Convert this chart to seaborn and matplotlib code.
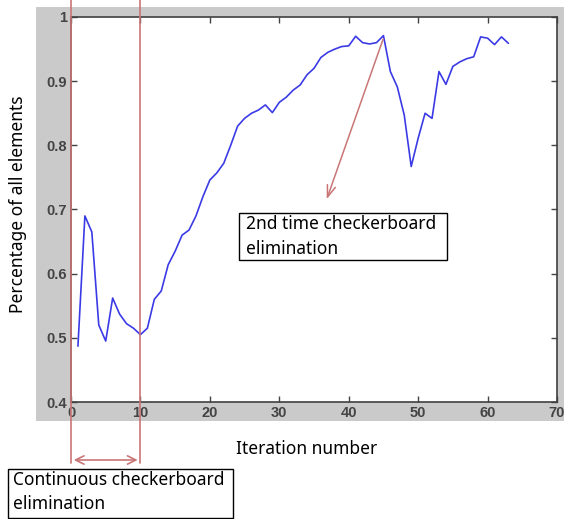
import numpy as np
import pandas as pd
import matplotlib
matplotlib.use("Agg")
import matplotlib.pyplot as plt
import matplotlib.transforms as mtransforms
from matplotlib.patches import Rectangle, FancyArrowPatch
import seaborn as sns

iterations = list(range(1, 64))
percentage = [0.487, 0.69, 0.665, 0.52, 0.495, 0.562, 0.537, 0.522, 0.515, 0.505,
              0.515, 0.56, 0.573, 0.614, 0.635, 0.66, 0.668, 0.69, 0.72, 0.746,
              0.757, 0.772, 0.80, 0.83, 0.842, 0.85, 0.855, 0.863, 0.851, 0.867,
              0.875, 0.886, 0.894, 0.91, 0.92, 0.937, 0.945, 0.95, 0.954, 0.955,
              0.97, 0.96, 0.958, 0.96, 0.971, 0.915, 0.891, 0.847, 0.767, 0.811,
              0.85, 0.842, 0.915, 0.895, 0.923, 0.93, 0.935, 0.938, 0.969, 0.967,
              0.957, 0.969, 0.959]
xticks = [0, 10, 20, 30, 40, 50, 60, 70]
yticks = [0.4, 0.5, 0.6, 0.7, 0.8, 0.9, 1.0]
ytick_labels = ["0.4", "0.5", "0.6", "0.7", "0.8", "0.9", "1"]
region_bounds = [0, 10]
peak_point = (45.1, 0.97)
arrow_target = (36.7, 0.712)

sns.set_theme(style="white")
plt.rcParams['font.family'] = ['Noto Sans', 'DejaVu Sans']
plt.rcParams['text.color'] = 'black'

W, H = 564, 519
fig = plt.figure(figsize=(W / 100, H / 100), dpi=100)
fig.patch.set_facecolor("white")

# gray figure background region
fig.patches.append(Rectangle((36 / W, 1 - 421 / H), (W - 36) / W, (421 - 7) / H,
                             transform=fig.transFigure, facecolor="#cacaca",
                             edgecolor="none", zorder=-10))

ax = fig.add_axes([71 / W, 1 - 402 / H, (557 - 71) / W, (402 - 17) / H])
ax.set_facecolor("white")
df = pd.DataFrame({"Iteration": iterations, "Percentage": percentage})
sns.lineplot(data=df, x="Iteration", y="Percentage", ax=ax, color="#3b3be6", lw=1.2)

ax.set_xlim(0, 70)
ax.set_ylim(0.4, 1.0)
ax.set_xticks(xticks)
ax.set_yticks(yticks)
ax.set_yticklabels(ytick_labels)
ax.tick_params(direction="in", length=4, width=1, colors="#444444", labelsize=10.5,
               top=True, right=True, bottom=True, left=True, pad=3)
for lab in ax.get_xticklabels() + ax.get_yticklabels():
    lab.set_fontweight("bold")
    lab.set_color("#444444")
    lab.set_family(["Liberation Sans", "DejaVu Sans"])
for s in ax.spines.values():
    s.set_color("#404040")
    s.set_linewidth(1.2)
ax.set_xlabel("")
ax.set_ylabel("")

fig.text(18 / W, 1 - 204 / H, "Percentage of all elements", rotation=90,
         ha="center", va="center", fontsize=12.5, color="black")
fig.text(307 / W, 1 - 449 / H, "Iteration number", ha="center", va="center",
         fontsize=12.5, color="black")

# red vertical lines spanning figure
red = "#c97575"
trans = mtransforms.blended_transform_factory(ax.transData, fig.transFigure)
for xb in region_bounds:
    ax.plot([xb, xb], [1 - 463 / H, 1.0], transform=trans, color=red, lw=1.2,
            clip_on=False, zorder=5)
arr = FancyArrowPatch((region_bounds[0], 1 - 460 / H), (region_bounds[1], 1 - 460 / H),
                      transform=trans, arrowstyle="<->,head_length=6,head_width=3",
                      color=red, lw=1.2, clip_on=False, zorder=5)
fig.patches.append(arr)

# text box 1
fig.patches.append(Rectangle((8 / W, 1 - 518 / H), (233 - 8) / W, (518 - 469) / H,
                             transform=fig.transFigure, facecolor="white",
                             edgecolor="black", lw=1.0, zorder=6))
fig.text(13 / W, 1 - 471 / H, "Continuous checkerboard\nelimination", ha="left",
         va="top", fontsize=12.5, linespacing=1.45, zorder=7, color="black")

# arrow 2
ax.annotate("", xy=arrow_target, xytext=peak_point,
            arrowprops=dict(arrowstyle="->,head_length=0.7,head_width=0.25", color=red, lw=1.1))

# text box 2
fig.patches.append(Rectangle((239 / W, 1 - 260 / H), (447 - 239) / W, (260 - 213) / H,
                             transform=fig.transFigure, facecolor="white",
                             edgecolor="black", lw=1.0, zorder=6))
fig.text(246 / W, 1 - 215 / H, "2nd time checkerboard\nelimination", ha="left",
         va="top", fontsize=12.5, linespacing=1.5, zorder=7, color="black")

fig.savefig("out.png", dpi=100)
